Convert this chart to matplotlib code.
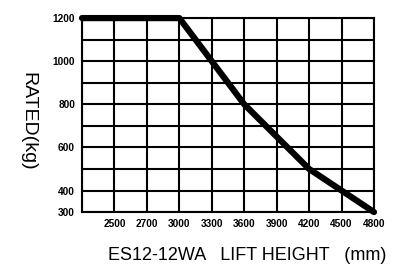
import matplotlib
matplotlib.use('Agg')
import matplotlib.pyplot as plt
import numpy as np

# lift height categories (first grid column has no label)
heights = ['', '2500', '2700', '3000', '3300', '3600', '3900', '4200', '4500', '4800']
# rated capacity (kg) at each lift height
rated = [1200, 1200, 1200, 1200, 1000, 800, 650, 500, 400, 300]

y_ticks = [300, 400, 600, 800, 1000, 1200]

plt.rcParams['font.family'] = ['Liberation Sans', 'DejaVu Sans']

fig = plt.figure(figsize=(4.03, 2.74), dpi=100)
ax = fig.add_axes([0.2035, 0.226, 0.7245, 0.708])

x = np.arange(len(heights))

# grid
for xi in x:
    ax.axvline(xi, color='black', lw=1.5, zorder=1)
for yv in range(300, 1201, 100):
    ax.axhline(yv, color='black', lw=1.5, zorder=1)

ax.plot(x, rated, color='black', lw=4.5, solid_capstyle='round',
        solid_joinstyle='round', zorder=3, clip_on=False)

ax.set_xlim(x[0], x[-1])
ax.set_ylim(300, 1200)
ax.set_xticks(x)
ax.set_xticklabels(heights, fontsize=7.3, fontweight='bold')
ax.set_yticks(y_ticks)
ax.set_yticklabels([str(v) for v in y_ticks], fontsize=7.3, fontweight='bold')
ax.tick_params(length=0, pad=5)

for s in ax.spines.values():
    s.set_linewidth(1.5)

ax.set_ylabel('RATED(kg)', fontsize=14, rotation=-90)
ax.yaxis.set_label_coords(-0.215, 0.47)
ax.set_xlabel('ES12-12WA   LIFT HEIGHT   (mm)', fontsize=13)
ax.xaxis.set_label_coords(0.567, -0.18)

fig.savefig('out.png', dpi=100)
